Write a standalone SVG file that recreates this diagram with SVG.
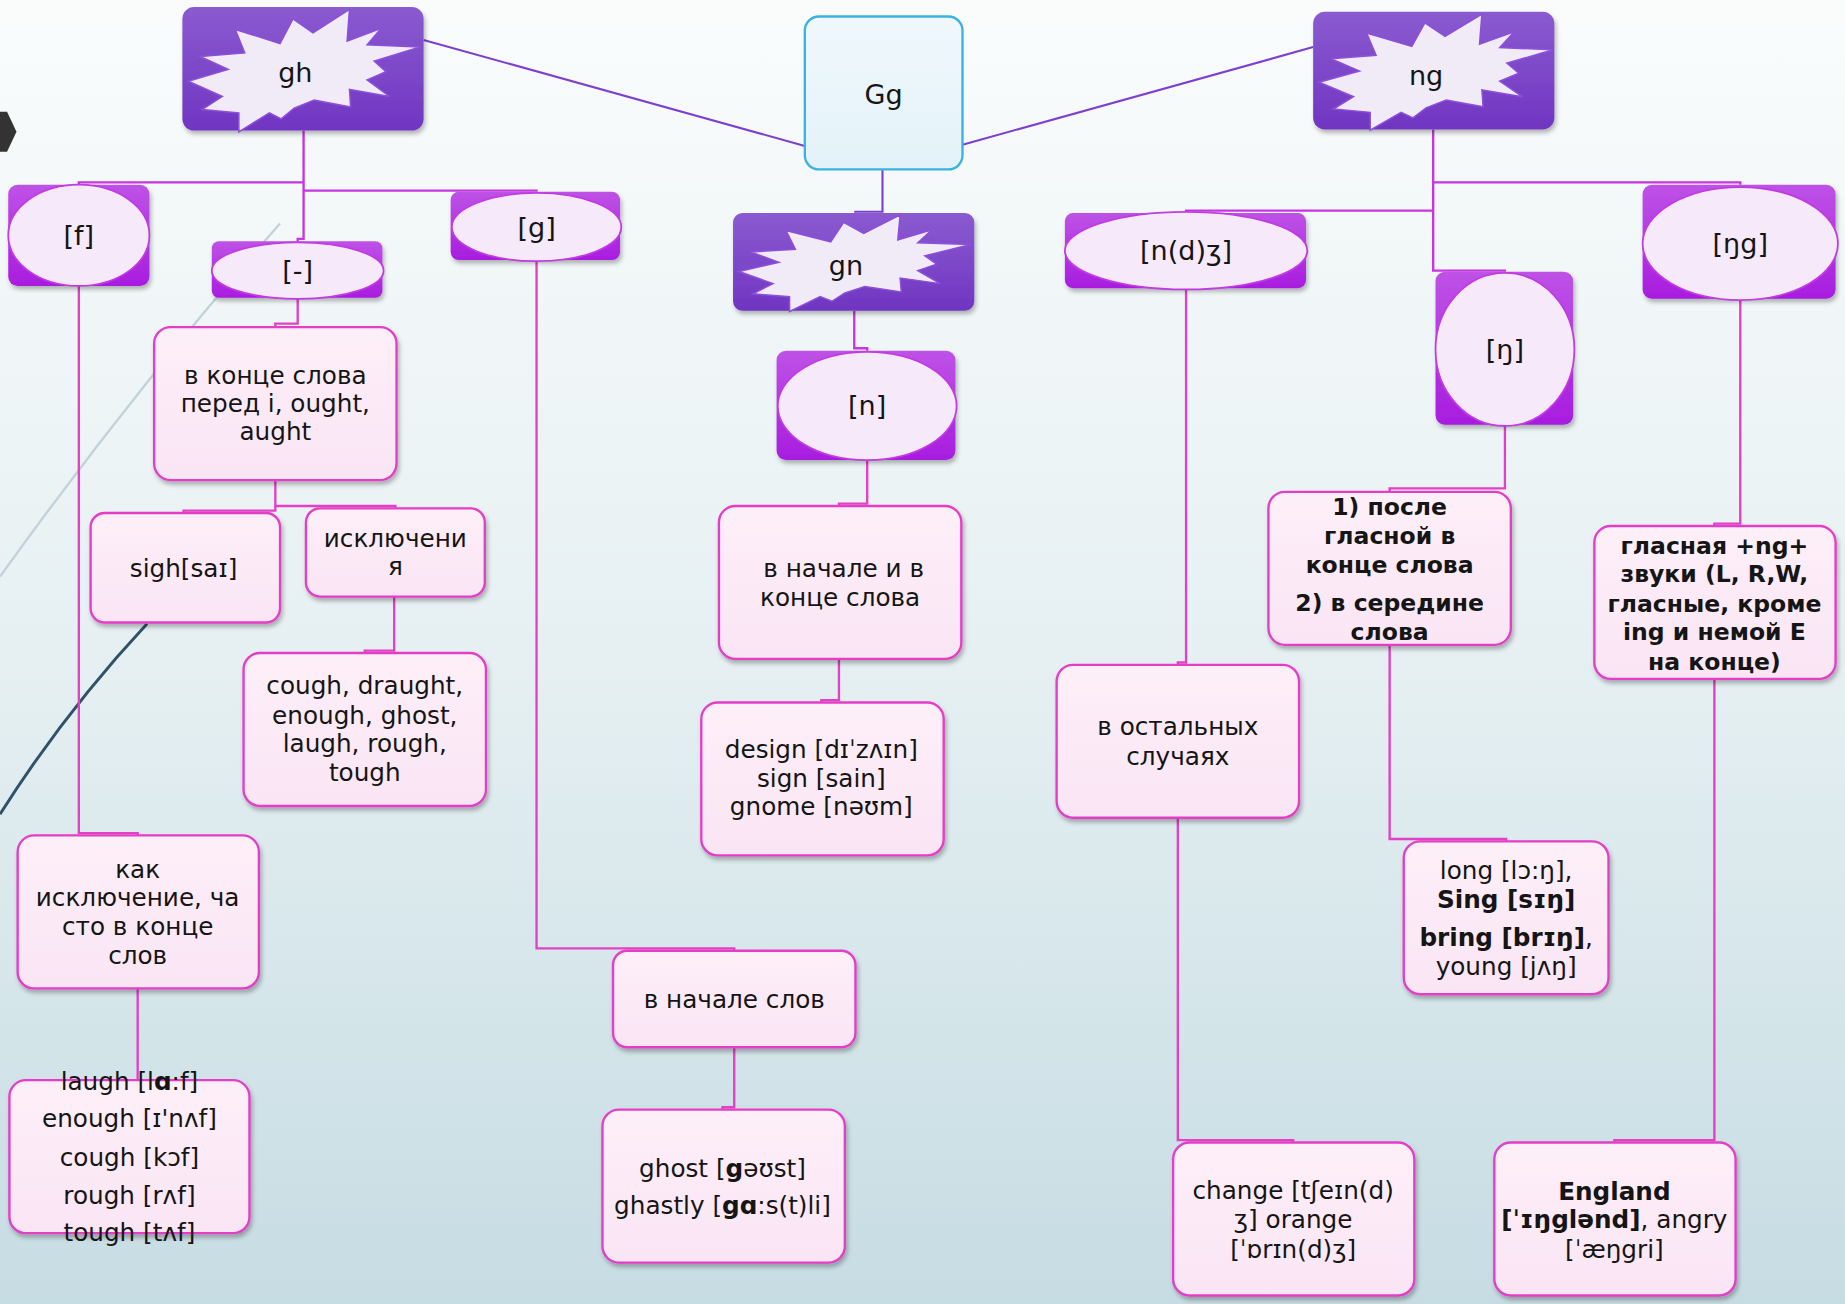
<svg xmlns="http://www.w3.org/2000/svg" xmlns:xlink="http://www.w3.org/1999/xlink" width="1845" height="1304" viewBox="0 0 1845 1304">
<defs>
<linearGradient id="bg" x1="0" y1="0" x2="0" y2="1">
<stop offset="0" stop-color="#fafcfc"/><stop offset="0.5" stop-color="#e6f0f2"/><stop offset="1" stop-color="#c6dce3"/>
</linearGradient>
<linearGradient id="gPurple" x1="0" y1="0" x2="0" y2="1">
<stop offset="0" stop-color="#8a5bd0"/><stop offset="1" stop-color="#7035c1"/>
</linearGradient>
<linearGradient id="gMag" x1="0" y1="0" x2="0" y2="1">
<stop offset="0" stop-color="#be52e6"/><stop offset="1" stop-color="#a81ddf"/>
</linearGradient>
<linearGradient id="gPink" x1="0" y1="0" x2="0" y2="1">
<stop offset="0" stop-color="#fdeff8"/><stop offset="1" stop-color="#fae5f4"/>
</linearGradient>
<linearGradient id="gBlue" x1="0" y1="0" x2="0" y2="1">
<stop offset="0" stop-color="#f0f8fc"/><stop offset="1" stop-color="#e3f2f9"/>
</linearGradient>
<filter id="sh" x="-10%" y="-10%" width="130%" height="140%">
<feDropShadow dx="1.5" dy="3" stdDeviation="2" flood-color="#000" flood-opacity="0.28"/>
</filter>
<polygon id="star" points="15,42 53,39 45,19 83,31 94,10 111,22 142,2 140,29 169,18 157,32 202,34 163,46 173,55 157,62 176,76 142,70 143,85 112,79 95,86 84,95 74,90 48,106 48,90 17,87 34,76 5,63 39,53" fill="#f1ebf8" stroke="#8d4fdc" stroke-width="1.5" vector-effect="non-scaling-stroke"/>
<style>
.t{font-family:"DejaVu Sans",sans-serif;font-size:21px;fill:#151515;text-anchor:middle}
.tb{font-family:"DejaVu Sans",sans-serif;font-size:20px;font-weight:bold;fill:#151515;text-anchor:middle}
.h{font-family:"DejaVu Sans",sans-serif;font-size:23px;fill:#151515;text-anchor:middle}
.b{font-weight:bold}
.r{font-weight:normal}
.pbox{fill:url(#gPink);stroke:#e43ec6;stroke-width:2;filter:url(#sh)}
.mbox{fill:url(#gMag);filter:url(#sh)}
.ell{fill:#f6e9f9;stroke:#c23be2;stroke-width:1.5}
.pur{fill:url(#gPurple);filter:url(#sh)}
.cp{fill:none;stroke:#7d3ed2;stroke-width:1.8}
.cv{fill:none;stroke:#c636e0;stroke-width:2}
.cl{fill:none;stroke:#e340c6;stroke-width:2}
</style>
</defs>
<rect x="0" y="0" width="1845" height="1304" fill="url(#bg)"/>
<g transform="scale(1.176658)">
<g id="decor">
<path d="M0,490 Q115,330 238,190" fill="none" stroke="#c3d2d8" stroke-width="2"/>
<path d="M0,692 Q55,605 125,530" fill="none" stroke="#2f5268" stroke-width="2.5"/>
<polygon points="0,95 6,95 14,112 6,129 0,129" fill="#333"/>
</g>
<g id="connectors">
<path class="cp" d="M360,34 L684,124"/>
<path class="cp" d="M818,123 L1116,40"/>
<path class="cp" d="M750,144 V180 H726"/>
<path class="cv" d="M258,111 V203 H253 V205"/>
<path class="cv" d="M258,155 H67 V157"/>
<path class="cv" d="M258,162 H456 V163"/>
<path class="cv" d="M1218,110 V230 H1279 V231"/>
<path class="cv" d="M1218,155 H1479 V157"/>
<path class="cv" d="M1218,179 H1008 V181"/>
<path class="cv" d="M726,264 V296 H737 V298"/>
<path class="cl" d="M67,243 V708 H117 V710"/>
<path class="cl" d="M117,840 V918"/>
<path class="cl" d="M253,253 V275 H234 V278"/>
<path class="cl" d="M234,408 V430 H336 V432"/>
<path class="cl" d="M234,430 V434 H156 V436"/>
<path class="cl" d="M335,507 V553 H310 V555"/>
<path class="cl" d="M456,221 V806 H624 V808"/>
<path class="cl" d="M624,890 V941 H614 V943"/>
<path class="cl" d="M737,391 V428 H713 V430"/>
<path class="cl" d="M713,560 V595 H698 V597"/>
<path class="cl" d="M1008,245 V563 H1001 V565"/>
<path class="cl" d="M1001,695 V969 H1099 V971"/>
<path class="cl" d="M1279,361 V415 H1181 V418"/>
<path class="cl" d="M1181,548 V713 H1280 V715"/>
<path class="cl" d="M1479,254 V445 H1457 V447"/>
<path class="cl" d="M1457,577 V969 H1372 V971"/>
</g>
<g id="n-gh">
<rect class="pur" x="155" y="6" width="205" height="105" rx="10"/>
<use xlink:href="#star" x="155" y="6"/>
<text class="h" x="251" y="70">gh</text>
</g>
<g id="n-Gg">
<rect x="684" y="14" width="134" height="130" rx="12" fill="url(#gBlue)" stroke="#3bb2e0" stroke-width="2"/>
<text class="h" x="751" y="88">Gg</text>
</g>
<g id="n-ng">
<rect class="pur" x="1116" y="10" width="205" height="100" rx="10"/>
<use xlink:href="#star" transform="translate(1116,10) scale(1.01,0.95)"/>
<text class="h" x="1212" y="72">ng</text>
</g>
<g id="n-gn">
<rect class="pur" x="623" y="181" width="205" height="83" rx="8"/>
<use xlink:href="#star" transform="translate(623,181) scale(1,0.79)"/>
<text class="h" x="719" y="234">gn</text>
</g>
<g id="n-f">
<rect class="mbox" x="7" y="157" width="120" height="86" rx="8"/>
<ellipse class="ell" cx="67" cy="200" rx="60" ry="43"/>
<text class="h" x="67" y="208">[f]</text>
</g>
<g id="n-dash">
<rect class="mbox" x="180" y="205" width="145" height="48" rx="6"/>
<ellipse class="ell" cx="253" cy="230" rx="73" ry="24"/>
<text class="h" x="253" y="238">[-]</text>
</g>
<g id="n-g">
<rect class="mbox" x="383" y="163" width="144" height="58" rx="7"/>
<ellipse class="ell" cx="456" cy="193" rx="72" ry="29"/>
<text class="h" x="456" y="201">[g]</text>
</g>
<g id="n-n">
<rect class="mbox" x="660" y="298" width="152" height="93" rx="8"/>
<ellipse class="ell" cx="737" cy="345" rx="76" ry="46"/>
<text class="h" x="737" y="353">[n]</text>
</g>
<g id="n-ndz">
<rect class="mbox" x="905" y="181" width="205" height="64" rx="7"/>
<ellipse class="ell" cx="1008" cy="213" rx="103" ry="33"/>
<text class="h" x="1008" y="221">[n(d)ʒ]</text>
</g>
<g id="n-eng">
<rect class="mbox" x="1220" y="231" width="117" height="130" rx="8"/>
<ellipse class="ell" cx="1279" cy="297" rx="59" ry="65"/>
<text class="h" x="1279" y="305">[ŋ]</text>
</g>
<g id="n-engg">
<rect class="mbox" x="1396" y="157" width="164" height="97" rx="8"/>
<ellipse class="ell" cx="1479" cy="207" rx="83" ry="48"/>
<text class="h" x="1479" y="215">[ŋg]</text>
</g>
<g id="n-konce">
<rect class="pbox" x="131" y="278" width="206" height="130" rx="14"/>
<text class="t" x="234" y="326">в конце слова</text>
<text class="t" x="234" y="350">перед i, ought,</text>
<text class="t" x="234" y="374">aught</text>
</g>
<g id="n-sigh">
<rect class="pbox" x="77" y="436" width="161" height="93" rx="12"/>
<text class="t" x="156" y="490">sigh[saɪ]</text>
</g>
<g id="n-iskl">
<rect class="pbox" x="260" y="432" width="152" height="75" rx="12"/>
<text class="t" x="336" y="465">исключени</text>
<text class="t" x="336" y="489">я</text>
</g>
<g id="n-cough">
<rect class="pbox" x="207" y="555" width="206" height="130" rx="14"/>
<text class="t" x="310" y="590">cough, draught,</text>
<text class="t" x="310" y="615">enough, ghost,</text>
<text class="t" x="310" y="639">laugh, rough,</text>
<text class="t" x="310" y="664">tough</text>
</g>
<g id="n-kak">
<rect class="pbox" x="15" y="710" width="205" height="130" rx="14"/>
<text class="t" x="117" y="746">как</text>
<text class="t" x="117" y="770">исключение, ча</text>
<text class="t" x="117" y="795">сто в конце</text>
<text class="t" x="117" y="819">слов</text>
</g>
<g id="n-laugh">
<rect class="pbox" x="8" y="918" width="204" height="130" rx="14"/>
<text class="t" x="110" y="926">laugh [l<tspan class="b">ɑ</tspan>:f]</text>
<text class="t" x="110" y="958">enough [ɪ'nʌf]</text>
<text class="t" x="110" y="991">cough [kɔf]</text>
<text class="t" x="110" y="1023">rough [rʌf]</text>
<text class="t" x="110" y="1055">tough [tʌf]</text>
</g>
<g id="n-nachkon">
<rect class="pbox" x="611" y="430" width="206" height="130" rx="14"/>
<text class="t" x="717" y="490">в начале и в</text>
<text class="t" x="714" y="515">конце слова</text>
</g>
<g id="n-design">
<rect class="pbox" x="596" y="597" width="206" height="130" rx="14"/>
<text class="t" x="698" y="644">design [dɪˈzʌɪn]</text>
<text class="t" x="698" y="669">sign [sain]</text>
<text class="t" x="698" y="693">gnome [nəʊm]</text>
</g>
<g id="n-nachslov">
<rect class="pbox" x="521" y="808" width="206" height="82" rx="12"/>
<text class="t" x="624" y="857">в начале слов</text>
</g>
<g id="n-ghost">
<rect class="pbox" x="512" y="943" width="206" height="130" rx="14"/>
<text class="t" x="614" y="1000">ghost [<tspan class="b">g</tspan>əʊst]</text>
<text class="t" x="614" y="1032">ghastly [<tspan class="b">gɑ</tspan>:s(t)li]</text>
</g>
<g id="n-ostal">
<rect class="pbox" x="898" y="565" width="206" height="130" rx="14"/>
<text class="t" x="1001" y="625">в остальных</text>
<text class="t" x="1001" y="650">случаях</text>
</g>
<g id="n-change">
<rect class="pbox" x="997" y="971" width="205" height="130" rx="14"/>
<text class="t" x="1099" y="1019">change [tʃeɪn(d)</text>
<text class="t" x="1099" y="1044">ʒ] orange</text>
<text class="t" x="1099" y="1069">[ˈɒrɪn(d)ʒ]</text>
</g>
<g id="n-posle">
<rect class="pbox" x="1078" y="418" width="206" height="130" rx="14"/>
<text class="tb" x="1181" y="438">1) после</text>
<text class="tb" x="1181" y="462">гласной в</text>
<text class="tb" x="1181" y="487">конце слова</text>
<text class="tb" x="1181" y="519">2) в середине</text>
<text class="tb" x="1181" y="544">слова</text>
</g>
<g id="n-long">
<rect class="pbox" x="1193" y="715" width="174" height="130" rx="14"/>
<text class="t" x="1280" y="747">long [lɔ:ŋ],</text>
<text class="t b" x="1280" y="772">Sing [sɪŋ]</text>
<text class="t" x="1280" y="804"><tspan class="b">bring [brɪŋ]</tspan>,</text>
<text class="t" x="1280" y="829">young [jʌŋ]</text>
</g>
<g id="n-glasn">
<rect class="pbox" x="1355" y="447" width="205" height="130" rx="14"/>
<text class="tb" x="1457" y="471">гласная +ng+</text>
<text class="tb" x="1457" y="495">звуки (L, R,W,</text>
<text class="tb" x="1457" y="520">гласные, кроме</text>
<text class="tb" x="1457" y="544">ing и немой Е</text>
<text class="tb" x="1457" y="569">на конце)</text>
</g>
<g id="n-england">
<rect class="pbox" x="1270" y="971" width="205" height="130" rx="14"/>
<text class="t b" x="1372" y="1020">England</text>
<text class="t" x="1372" y="1044"><tspan class="b">[ˈɪŋglənd]</tspan>, angry</text>
<text class="t" x="1372" y="1069">[ˈæŋgri]</text>
</g>
</g>
</svg>
